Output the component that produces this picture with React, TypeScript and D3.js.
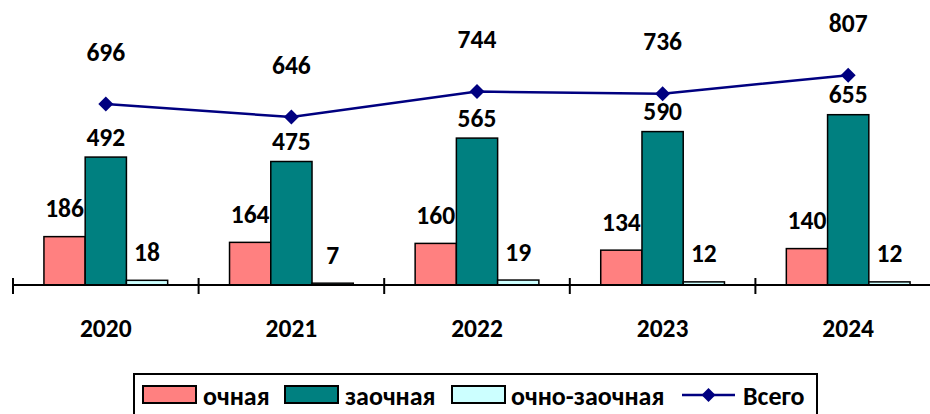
import React from "react";
import * as d3 from "d3";

const years = ["2020", "2021", "2022", "2023", "2024"];
const ochnaya = [186, 164, 160, 134, 140];
const zaochnaya = [492, 475, 565, 590, 655];
const ochnoZaochnaya = [18, 7, 19, 12, 12];
const total = [696, 646, 744, 736, 807];

const seriesNames = ["очная", "заочная", "очно-заочная", "Всего"];
const barColors = ["#FF8080", "#008080", "#CCFFFF"];
const lineColor = "#000080";

const W = 930;
const H = 414;
const FONT = "Carlito, Calibri, Lato, sans-serif";

export default function App() {
  const x = d3.scaleBand<string>().domain(years).range([13, 941]).paddingInner(0).paddingOuter(0);
  const y = d3.scaleLinear().domain([0, 1000]).range([285, 25]);
  const bw = x.bandwidth();
  const barW = bw / 4.5;
  const groupOff = barW * 0.75;
  const barSeries = [ochnaya, zaochnaya, ochnoZaochnaya];
  const labelOffsets = [28, 20, 28];

  const line = d3
    .line<number>()
    .x((_, i) => (x(years[i]) as number) + bw / 2)
    .y((d) => y(d));

  const legendItems = [
    { kind: "bar", color: barColors[0], sx: 143, tx: 203, label: seriesNames[0] },
    { kind: "bar", color: barColors[1], sx: 285, tx: 345, label: seriesNames[1] },
    { kind: "bar", color: barColors[2], sx: 452, tx: 511, label: seriesNames[2] },
    { kind: "line", color: lineColor, sx: 682, tx: 743, label: seriesNames[3] },
  ];

  const diamond = (cx: number, cy: number, r: number) =>
    `M${cx},${cy - r}L${cx + r},${cy}L${cx},${cy + r}L${cx - r},${cy}Z`;

  return (
    <svg
      width={W}
      height={H}
      style={{ position: "absolute", left: 0, top: 0, background: "#fff" }}
      fontFamily={FONT}
      fontWeight="bold"
    >
      {/* bars */}
      {barSeries.map((s, si) =>
        s.map((v, i) => {
          const bx = (x(years[i]) as number) + groupOff + si * barW;
          return (
            <rect
              key={`b${si}-${i}`}
              x={bx}
              y={y(v)}
              width={barW}
              height={y(0) - y(v)}
              fill={barColors[si]}
              stroke="#000"
              strokeWidth={1.5}
            />
          );
        })
      )}
      {/* axis */}
      <line x1={13} x2={W} y1={285} y2={285} stroke="#000" strokeWidth={2} />
      {years.map((yr, i) => (
        <line
          key={`t${i}`}
          x1={x(yr) as number}
          x2={x(yr) as number}
          y1={278}
          y2={294}
          stroke="#000"
          strokeWidth={2}
        />
      ))}
      {years.map((yr) => (
        <text
          key={`yl${yr}`}
          x={(x(yr) as number) + bw / 2}
          y={328}
          textAnchor="middle"
          dominantBaseline="central"
          fontSize={25.5}
          fill="#000"
        >
          {yr}
        </text>
      ))}
      {/* bar labels */}
      {barSeries.map((s, si) =>
        s.map((v, i) => {
          const bx = (x(years[i]) as number) + groupOff + si * barW + barW / 2;
          return (
            <text
              key={`l${si}-${i}`}
              x={bx}
              y={y(v) - labelOffsets[si]}
              textAnchor="middle"
              dominantBaseline="central"
              fontSize={25.5}
              fill="#000"
            >
              {v}
            </text>
          );
        })
      )}
      {/* line */}
      <path d={line(total) || ""} fill="none" stroke={lineColor} strokeWidth={2.5} />
      {total.map((v, i) => {
        const cx = (x(years[i]) as number) + bw / 2;
        return (
          <g key={`p${i}`}>
            <path d={diamond(cx, y(v), 7.5)} fill={lineColor} />
            <text
              x={cx}
              y={y(v) - 52}
              textAnchor="middle"
              dominantBaseline="central"
              fontSize={25.5}
              fill="#000"
            >
              {v}
            </text>
          </g>
        );
      })}
      {/* legend */}
      <rect x={134} y={374} width={683} height={50} fill="#fff" stroke="#000" strokeWidth={2} />
      {legendItems.map((it, i) => (
        <g key={`lg${i}`}>
          {it.kind === "bar" ? (
            <rect x={it.sx} y={386} width={53} height={17} fill={it.color} stroke="#000" strokeWidth={2} />
          ) : (
            <g>
              <line x1={it.sx} x2={it.sx + 53} y1={395} y2={395} stroke={it.color} strokeWidth={2.5} />
              <path d={diamond(it.sx + 26.5, 395, 7)} fill={it.color} />
            </g>
          )}
          <text x={it.tx} y={405} fontSize={26} fill="#000">
            {it.label}
          </text>
        </g>
      ))}
    </svg>
  );
}
